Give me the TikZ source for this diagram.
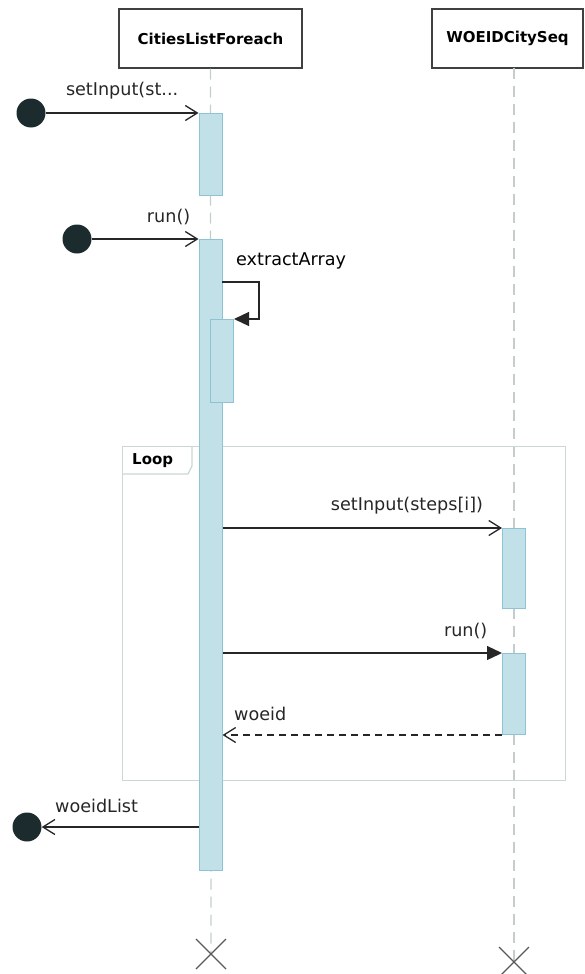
\documentclass[tikz,border=0pt]{standalone}
\usepackage{fontspec}
\setmainfont{DejaVu Sans}
\usepackage{tikz}
\usetikzlibrary{arrows.meta, positioning, calc}

\definecolor{barfill}{HTML}{C2E0E7}
\definecolor{barline}{HTML}{8EC3D3}
\definecolor{lifegray}{HTML}{C4CCCC}
\definecolor{framegray}{HTML}{CBD6D6}
\definecolor{dotdark}{HTML}{1C2B2E}

\begin{document}
\begin{tikzpicture}[
    x=1pt, y=-1pt,
    font=\fontsize{17.6}{20}\selectfont,
    head/.style={rectangle, draw=black!75, line width=1.2pt, minimum height=59, align=center, font=\fontsize{15}{18}\selectfont\bfseries, fill=white},
    bar/.style={rectangle, draw=barline, line width=1pt, fill=barfill, minimum width=23, anchor=north, inner sep=0},
    actor/.style={circle, fill=dotdark, minimum size=29, inner sep=0},
    life/.style={draw=lifegray, line width=1.3pt, dash pattern=on 11pt off 7pt},
    msg/.style={-{Straight Barb[length=12pt, width=15pt]}, line width=1.3pt, black!85},
    sync/.style={-{Triangle[length=15pt, width=14pt]}, line width=1.3pt, black!85},
    reply/.style={-{Straight Barb[length=12pt, width=15pt]}, line width=1.3pt, black!85, dash pattern=on 7pt off 5pt},
    frame/.style={rectangle, draw=framegray, line width=1.2pt, anchor=north west},
    kill/.style={draw=black!65, line width=1.2pt},
    lbl/.style={above=10pt}
]
    \useasboundingbox (0,0) rectangle (584,974);
    \clip (0,0) rectangle (584,974);

    % Heads and life lines
    \node[head, minimum width=183] (cities) at (210.5,38.5) {CitiesListForeach};
    \node[head, minimum width=151] (woeidseq) at (507.5,38.5) {WOEIDCitySeq};
    \coordinate (citiesend) at (211,954);
    \coordinate (seqtop) at (514,68);
    \coordinate (seqend) at (514,962);
    \draw[life] (cities.south) -- (citiesend);
    \draw[life] (seqtop) -- (seqend);
    \draw[kill] ($(citiesend)+(-15,-15)$) -- ++(30,30) ($(citiesend)+(-15,15)$) -- ++(30,-30);
    \draw[kill] ($(seqend)+(-15,-15)$) -- ++(30,30) ($(seqend)+(-15,15)$) -- ++(30,-30);

    % Loop frame
    \node[frame, minimum width=443, minimum height=334] (loop) at (122,446) {};
    \draw[framegray, line width=1.2pt] (loop.north west) ++(0,28) -- ++(66,0) -- ++(4,-8) -- ++(0,-20);
    \node[font=\fontsize{15}{18}\selectfont\bfseries, anchor=west, inner sep=0] (looplabel) at (132,461) {Loop};

    % Activations
    \node[bar, minimum height=82] (act1) at (210.5,113) {};
    \node[bar, minimum height=631] (act2) at (210.5,239) {};
    \node[bar, minimum height=83] (act3) at (222,319) {};
    \node[bar, minimum height=80] (act4) at (514,528) {};
    \node[bar, minimum height=81] (act5) at (514,653) {};

    % Found and lost messages
    \node[actor] (found1) at (31,113) {};
    \node[actor] (found2) at (77,239) {};
    \node[actor] (lost) at (27,827) {};

    % Messages
    \draw[msg] (found1) -- (act1.north west) node[midway, lbl] {setInput(st...};
    \draw[msg] (found2) -- (act2.north west) node[pos=0.72, lbl] {run()};
    \coordinate (selfout) at (222,282);
    \draw[sync] (selfout) -| (259,319) -- (act3.north east);
    \node[anchor=west, inner sep=0] (selflabel) at (236,261) {extractArray};
    \draw[msg] (act2.east |- act4.north) -- (act4.north west) node[pos=0.66, lbl] {setInput(steps[i])};
    \draw[sync] (act2.east |- act5.north) -- (act5.north west) node[pos=0.87, lbl] {run()};
    \draw[reply] (act5.south west) -- (act2.east |- act5.south) node[pos=0.865, lbl] {woeid};
    \draw[msg] (act2.west |- lost) -- (lost) node[pos=0.65, lbl] {woeidList};
\end{tikzpicture}
\end{document}
